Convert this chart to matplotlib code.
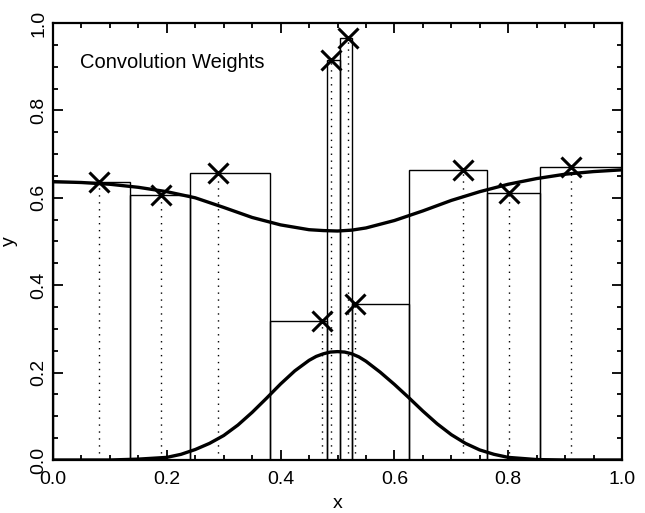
import numpy as np
import matplotlib
matplotlib.use("Agg")
import matplotlib.pyplot as plt
from matplotlib.ticker import MultipleLocator

plt.rcParams['font.family'] = ['Liberation Sans', 'DejaVu Sans']

# Data points (x markers)
pt_x = [0.080, 0.190, 0.290, 0.472, 0.488, 0.518, 0.531, 0.720, 0.801, 0.910]
pt_y = [0.637, 0.606, 0.657, 0.318, 0.915, 0.965, 0.357, 0.664, 0.612, 0.671]

# Step boxes: edges and heights
bin_edges = [0.0, 0.135, 0.241, 0.381, 0.481, 0.504, 0.525, 0.626, 0.762, 0.856, 1.0]
bin_heights = [0.637, 0.606, 0.657, 0.318, 0.915, 0.965, 0.357, 0.664, 0.612, 0.671]

# Smoothed (convolved) curve
smooth_x = [0.0, 0.05, 0.10, 0.15, 0.20, 0.25, 0.30, 0.35, 0.40, 0.45, 0.475, 0.50,
            0.525, 0.55, 0.60, 0.65, 0.70, 0.75, 0.80, 0.85, 0.90, 0.95, 1.0]
smooth_y = [0.637, 0.635, 0.631, 0.624, 0.614, 0.600, 0.578, 0.555, 0.538, 0.527, 0.525, 0.524,
            0.526, 0.531, 0.548, 0.570, 0.594, 0.614, 0.631, 0.644, 0.654, 0.660, 0.664]

# Kernel weights curve
kern_x = [0.0, 0.10, 0.15, 0.20, 0.225, 0.25, 0.275, 0.30, 0.325, 0.35, 0.375, 0.40,
          0.425, 0.45, 0.4625, 0.475, 0.4875, 0.50, 0.5125, 0.525, 0.5375, 0.55, 0.575,
          0.60, 0.625, 0.65, 0.675, 0.70, 0.725, 0.75, 0.775, 0.80, 0.85, 0.90, 1.0]
kern_y = [0.0, 0.000, 0.002, 0.006, 0.013, 0.024, 0.038, 0.056, 0.080, 0.109, 0.141, 0.174,
          0.204, 0.228, 0.237, 0.243, 0.247, 0.248, 0.247, 0.243, 0.236, 0.226, 0.201,
          0.173, 0.143, 0.112, 0.083, 0.058, 0.038, 0.023, 0.013, 0.006, 0.001, 0.0, 0.0]

fig = plt.figure(figsize=(6.45, 5.13), dpi=100)
ax = fig.add_axes([53/645, 53/513, 569/645, 437/513])

widths = np.diff(bin_edges)
ax.bar(bin_edges[:-1], bin_heights, width=widths, align='edge', fill=False,
       edgecolor='black', linewidth=1.0, zorder=2)

for x, y in zip(pt_x, pt_y):
    ax.plot([x, x], [0, y], color='black', linestyle=(0, (1, 4)), linewidth=1.0, zorder=2)

ax.plot(pt_x, pt_y, linestyle='none', marker='x', markersize=14, markeredgewidth=2.2,
        color='black', zorder=4)

ax.plot(smooth_x, smooth_y, color='black', linewidth=2.4, solid_joinstyle='round', zorder=3)
ax.plot(kern_x, kern_y, color='black', linewidth=2.4, solid_joinstyle='round', zorder=3)

ticks = [0.0, 0.2, 0.4, 0.6, 0.8, 1.0]
tick_labels = ['0.0', '0.2', '0.4', '0.6', '0.8', '1.0']
ax.set_xticks(ticks)
ax.set_xticklabels(tick_labels)
ax.set_yticks(ticks)
ax.set_yticklabels(tick_labels, rotation=90, va='center')
ax.xaxis.set_minor_locator(MultipleLocator(0.05))
ax.yaxis.set_minor_locator(MultipleLocator(0.05))
ax.set_xlim(0, 1)
ax.set_ylim(0, 1)
ax.tick_params(which='both', direction='in', top=True, right=True, width=1.3)
ax.tick_params(which='major', length=7, labelsize=14)
ax.tick_params(axis='x', which='major', pad=8)
ax.tick_params(axis='y', which='major', pad=4)
ax.tick_params(which='minor', length=3.5)
for s in ax.spines.values():
    s.set_linewidth(1.6)

ax.set_xlabel('x', fontsize=14, labelpad=5)
ax.set_ylabel('y', fontsize=14, labelpad=9)

ax.text(0.047, 0.91, 'Convolution Weights', fontsize=14.5, ha='left', va='center',
        transform=ax.transAxes)

fig.savefig('out.png', dpi=100)
